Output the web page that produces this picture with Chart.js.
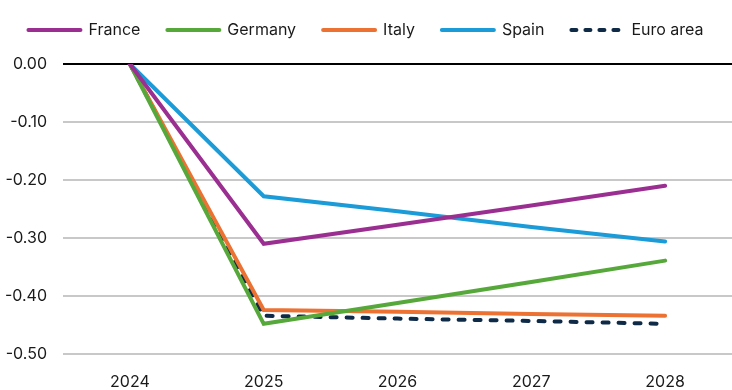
<!DOCTYPE html>
<html>
<head>
<meta charset="utf-8">
<script src="https://cdn.jsdelivr.net/npm/chart.js@4"></script>
<style>
html,body{margin:0;padding:0;background:#fff;}
#wrap{width:732px;height:390px;}
</style>
</head>
<body>
<div id="wrap"><canvas id="c" width="732" height="390"></canvas></div>
<script>
const years = ["2024","2025","2026","2027","2028"];
const france = [0, -0.310, -0.277, -0.244, -0.210];
const germany = [0, -0.448, -0.412, -0.376, -0.339];
const italy = [0, -0.424, -0.427, -0.431, -0.434];
const spain = [0, -0.228, -0.254, -0.281, -0.306];
const euroArea = [0, -0.434, -0.439, -0.443, -0.448];

const mk = (label, data, color, dash) => ({
  label, data, borderColor: color, backgroundColor: color,
  borderWidth: 4, pointRadius: 0, pointStyle: 'line', tension: 0,
  borderDash: dash || [], borderCapStyle: 'round'
});

const legendHeight = {
  id: 'legendHeight',
  beforeLayout(chart) {
    const lg = chart.legend;
    if (lg && !lg._patched) {
      const f = lg.fit.bind(lg);
      lg.fit = function () { f(); this.height = 69; };
      lg._patched = true;
    }
  }
};

new Chart(document.getElementById('c'), {
  type: 'line',
  data: {
    labels: years,
    datasets: [
      mk('France', france, '#9b2f91'),
      mk('Germany', germany, '#57a83b'),
      mk('Italy', italy, '#ec7233'),
      mk('Spain', spain, '#1b9bd7'),
      mk('Euro area', euroArea, '#0e2a47', [6, 10])
    ]
  },
  plugins: [legendHeight],
  options: {
    responsive: false,
    animation: false,
    layout: { padding: { left: 0, right: 0, top: -5, bottom: 0 } },
    plugins: {
      legend: {
        position: 'top',
        labels: {
          usePointStyle: true,
          pointStyle: 'line',
          pointStyleWidth: 52,
          boxHeight: 4,
          padding: 27,
          color: '#1a1a1a',
          font: { family: 'Inter', size: 16 },
          generateLabels: chart => chart.data.datasets.map((ds, i) => ({
            text: ds.label,
            datasetIndex: i,
            fillStyle: ds.borderColor,
            strokeStyle: ds.borderColor,
            lineWidth: 4,
            lineCap: 'round',
            lineDash: ds.borderDash.length ? [5, 9] : [],
            pointStyle: 'line',
            fontColor: '#1a1a1a',
            hidden: false
          }))
        }
      },
      tooltip: { enabled: false }
    },
    scales: {
      x: {
        offset: true,
        grid: { display: false },
        border: { display: false },
        ticks: { color: '#1a1a1a', font: { family: 'Inter', size: 16 }, padding: 11 },
        afterFit: s => { s.height = 36; }
      },
      y: {
        min: -0.5, max: 0,
        border: { display: false },
        grid: {
          drawTicks: false,
          lineWidth: 2,
          color: ctx => ctx.tick && ctx.tick.value === 0 ? '#000' : '#c8c8c8'
        },
        ticks: {
          stepSize: 0.1,
          padding: 16,
          color: '#1a1a1a',
          font: { family: 'Inter', size: 16 },
          callback: v => Number(v).toFixed(2)
        },
        afterFit: s => { s.width = 63; }
      }
    }
  }
});
</script>
</body>
</html>
